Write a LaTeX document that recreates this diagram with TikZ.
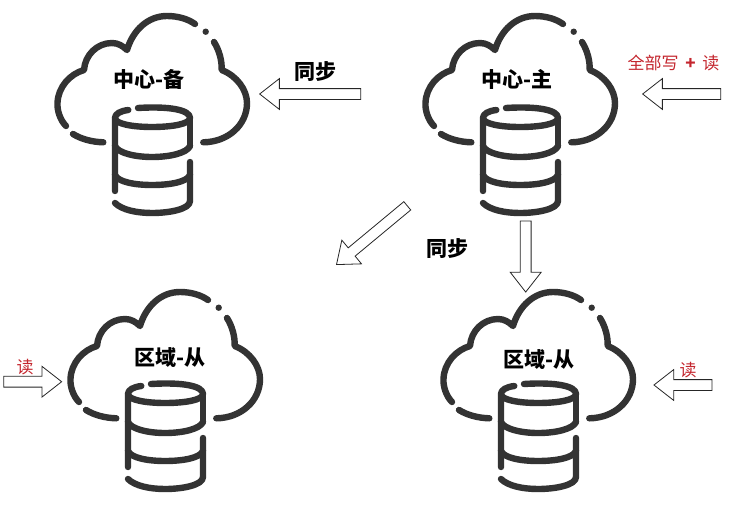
\documentclass[tikz,border=0pt]{standalone}
\usepackage{fontspec}
\setmainfont{Noto Sans CJK SC}
\usetikzlibrary{shapes.arrows}
\definecolor{clouddark}{HTML}{333333}
\definecolor{readred}{HTML}{C4262E}
\tikzset{
  blockarrow/.style={single arrow, draw=black!85, fill=white, line width=0.8pt,
    inner xsep=0pt, inner ysep=5pt, single arrow head extend=10pt, single arrow tip angle=76,
    text width=0pt, anchor=tip},
  titlelabel/.style={font=\fontsize{21}{21}\selectfont\bfseries},
  readlabel/.style={font=\fontsize{17}{17}\selectfont, text=readred},
  cloudline/.style={draw=clouddark, line width=6.4pt, line cap=round, line join=round},
  clouddb/.pic={
    \draw[cloudline] (103.3,142.3) .. controls (92,142) and (81,139) .. (73,134);
    \draw[cloudline] (66,126) .. controls (60,120) and (57,110) .. (57.5,103)
      .. controls (58,87) and (70,74) .. (84,70)
      .. controls (85,55) and (97,43) .. (112,43)
      .. controls (118,43) and (123,46) .. (127,50)
      .. controls (133,30) and (148,16) .. (167,16)
      .. controls (178,16) and (188,19) .. (195,24);
    \fill[clouddark] (205.7,31.7) circle (3.2pt);
    \draw[cloudline] (214,42) .. controls (219,50) and (222,60) .. (221.7,70)
      .. controls (237,76) and (247,90) .. (247,103)
      .. controls (247,125) and (228,142) .. (203.3,142.3);
    % cylinder
    \draw[cloudline] (128.3,110) .. controls (120,111) and (115,114) .. (115,118);
    \draw[cloudline] (138,108) .. controls (170,106) and (190,110) .. (190,118)
      .. controls (190,124) and (172,127) .. (152,127)
      .. controls (133,127) and (115,124) .. (115,118) -- (115,191);
    \draw[cloudline] (190,118) -- (190,146);
    \draw[cloudline] (115,146) .. controls (118,153) and (135,157) .. (152,157)
      .. controls (170,157) and (187,153) .. (190,146);
    \draw[cloudline] (115,175) .. controls (118,182) and (135,185) .. (152,185)
      .. controls (170,185) and (187,182) .. (190,175);
    \draw[cloudline] (190,162) -- (190,201)
      .. controls (190,209) and (170,213) .. (152,213)
      .. controls (137,213) and (122,210) .. (115,203);
  }
}
\begin{document}
\begin{tikzpicture}[x=1pt,y=-1pt]
    \useasboundingbox (0,0) rectangle (752,506);

    \pic (backup) at (0,0) {clouddb};
    \pic (master) at (368,0) {clouddb};
    \pic (regiona) at (13,276) {clouddb};
    \pic (regionb) at (386,276) {clouddb};

    \node[titlelabel] (backuptext)  at (149,79)  {中心-备};
    \node[titlelabel] (mastertext)  at (517,79)  {中心-主};
    \node[titlelabel] (regionatext) at (170,358) {区域-从};
    \node[titlelabel] (regionbtext) at (539,360) {区域-从};

    \node[blockarrow, rotate=180, minimum height=101pt] (syncback) at (259,94) {};
    \node[blockarrow, rotate=180, minimum height=78pt]  (writein)  at (642,94) {};
    \node[blockarrow, rotate=219.7, minimum height=92pt] (syncleft) at (336,265) {};
    \node[blockarrow, rotate=270, minimum height=71pt]  (syncdown) at (525.7,292.7) {};
    \node[blockarrow, rotate=0, minimum height=58pt]    (readleft) at (62.3,381.7) {};
    \node[blockarrow, rotate=180, minimum height=58pt]  (readright) at (653.3,385) {};

    \node[titlelabel] (synctop) at (315,71.5) {同步};
    \node[titlelabel] (syncmid) at (447,248.5) {同步};
    \node[readlabel] (writetext) at (673.5,63) {全部写\hspace{0.4em}{\bfseries+}\hspace{0.4em}读};
    \node[readlabel] (readtexta) at (25,367) {读};
    \node[readlabel] (readtextb) at (688,370) {读};
\end{tikzpicture}
\end{document}
